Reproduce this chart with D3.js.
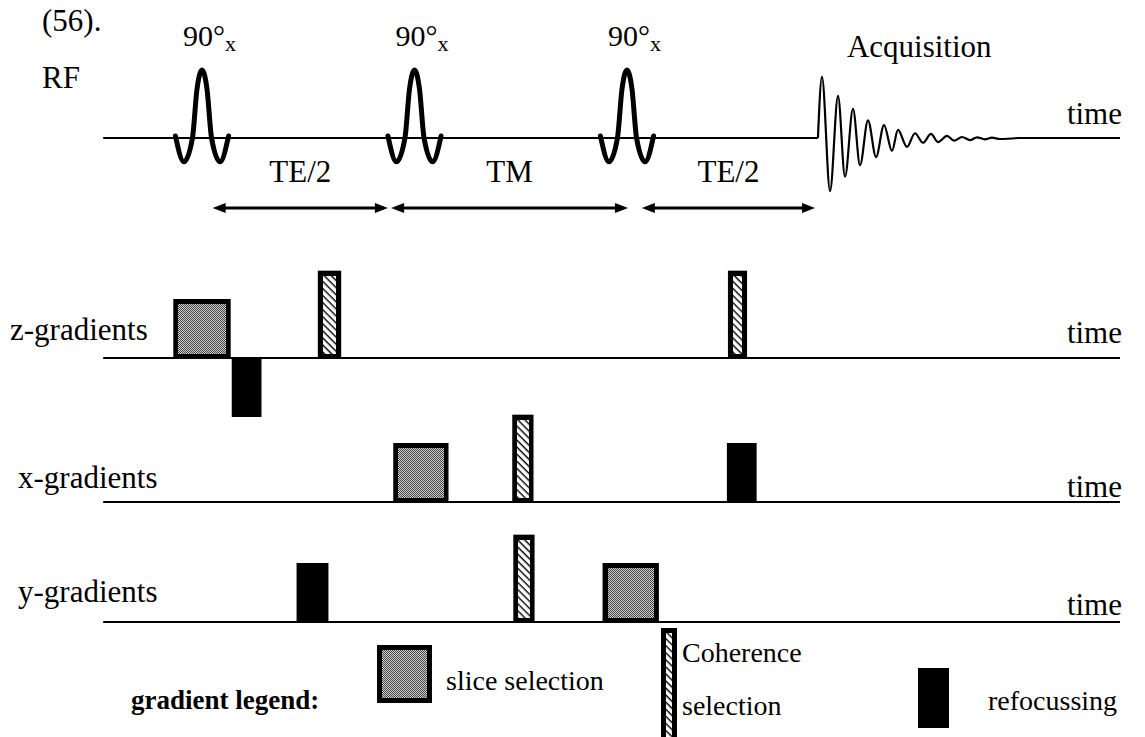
<!DOCTYPE html>
<html>
<head>
<meta charset="utf-8">
<script src="https://cdn.jsdelivr.net/npm/d3@7"></script>
<style>
  body { margin: 0; background: #fff; }
  svg { display: block; }
</style>
</head>
<body>
<div id="chart"></div>
<script>
// rf pulses, in time units
var pulseTimes = [10, 30, 50];
var pulseLabels = ["90°", "90°", "90°"];
var pulsePhases = ["x", "x", "x"];
// one pulse: [offset from centre, amplitude]
var pulseShape = [[-2.5, 0.03], [-1.7, -0.35], [-0.9, 0], [-0.47, 0.72], [0, 1],
                  [0.47, 0.72], [0.9, 0], [1.7, -0.35], [2.5, 0.03]];
// acquisition: start, each peak / trough, end
var fidPoints = [[67.97, 0], [68.35, 0.90], [69.11, -0.78], [69.86, 0.62], [70.52, -0.57],
                 [71.27, 0.43], [71.93, -0.40], [72.68, 0.26], [73.44, -0.28], [74.19, 0.19],
                 [74.94, -0.19], [75.5, 0.12], [76.35, -0.13], [77.1, 0.07], [77.86, -0.07],
                 [78.61, 0.06], [79.27, -0.06], [80.12, 0.03], [80.78, -0.04], [81.53, 0.015],
                 [82.28, -0.03], [82.94, 0.01], [83.69, -0.02], [84.35, 0.005], [85.1, -0.015],
                 [86.8, 0]];
var timeRange = [0.7, 96.4];
// delays between pulses
var delayLabels = ["TE/2", "TM", "TE/2"];
var delayStarts = [11.0, 27.8, 51.4];
var delayEnds = [27.5, 50.1, 67.7];
// gradient lobes
var rowLabels = ["z-gradients", "x-gradients", "y-gradients"];
var zGradients = [
  {type: "slice", start: 7.3, end: 12.7, amp: 1},
  {type: "refocus", start: 12.8, end: 15.6, amp: -1},
  {type: "coherence", start: 20.9, end: 23.1, amp: 1.48},
  {type: "coherence", start: 59.5, end: 61.3, amp: 1.48}
];
var xGradients = [
  {type: "slice", start: 28.0, end: 33.2, amp: 1},
  {type: "coherence", start: 39.2, end: 41.2, amp: 1.48},
  {type: "refocus", start: 59.4, end: 62.2, amp: 1}
];
var yGradients = [
  {type: "refocus", start: 18.9, end: 21.9, amp: 1},
  {type: "coherence", start: 39.3, end: 41.3, amp: 1.48},
  {type: "slice", start: 47.7, end: 53.0, amp: 1}
];
var legendTypes = ["slice", "coherence", "refocus"];
var legendLabels = [["slice selection"], ["Coherence", "selection"], ["refocussing"]];

var width = 1145, height = 737;
var rfBase = 138;
var rowBases = [358, 502, 622];
var border = 5;
var serif = "'Liberation Serif', 'Times New Roman', Times, 'DejaVu Serif', serif";

var svg = d3.select("#chart").append("svg")
  .attr("width", width)
  .attr("height", height)
  .attr("font-family", serif)
  .style("font-family", serif);

var defs = svg.append("defs");
var stip = defs.append("pattern")
  .attr("id", "stipple")
  .attr("width", 2).attr("height", 2)
  .attr("patternUnits", "userSpaceOnUse");
stip.append("rect").attr("width", 2).attr("height", 2).attr("fill", "#cccccc");
stip.append("rect").attr("width", 1).attr("height", 1).attr("fill", "#404040");
stip.append("rect").attr("x", 1).attr("y", 1).attr("width", 1).attr("height", 1).attr("fill", "#505050");

var hatch = defs.append("pattern")
  .attr("id", "hatch")
  .attr("width", 5).attr("height", 5)
  .attr("patternUnits", "userSpaceOnUse")
  .attr("patternTransform", "rotate(45)");
hatch.append("rect").attr("width", 5).attr("height", 5).attr("fill", "#fff");
hatch.append("rect").attr("width", 5).attr("height", 1.4).attr("fill", "#000");

var x = d3.scaleLinear().domain([0, 100]).range([95.75, 1158.25]);
var yRF = d3.scaleLinear().domain([-1, 1]).range([rfBase + 68, rfBase - 68]);
var gAmp = d3.scaleLinear().domain([0, 1]).range([0, 59]);

// ---- RF row ----
svg.append("text").attr("x", 42).attr("y", 31).attr("font-size", 31).text("(56).");
svg.append("text").attr("x", 42).attr("y", 88).attr("font-size", 31).text("RF");

var rf = svg.append("g");
rf.append("line")
  .attr("x1", x(timeRange[0])).attr("x2", x(fidPoints[0][0]))
  .attr("y1", rfBase).attr("y2", rfBase)
  .attr("stroke", "#000").attr("stroke-width", 2);
rf.append("line")
  .attr("x1", x(fidPoints[fidPoints.length - 1][0])).attr("x2", x(timeRange[1]))
  .attr("y1", rfBase).attr("y2", rfBase)
  .attr("stroke", "#000").attr("stroke-width", 2);

var pulseLine = d3.line().curve(d3.curveMonotoneX);
pulseTimes.forEach(function(t, i) {
  rf.append("path")
    .attr("d", pulseLine(pulseShape.map(function(p) { return [x(t + p[0]), yRF(p[1])]; })))
    .attr("fill", "none")
    .attr("stroke", "#000")
    .attr("stroke-width", 5)
    .attr("stroke-linecap", "round")
    .attr("stroke-linejoin", "round");

  var lab = rf.append("text")
    .attr("x", x(t) - 19)
    .attr("y", 46)
    .attr("font-size", 30)
    .text(pulseLabels[i]);
  lab.append("tspan")
    .attr("font-size", 22)
    .attr("dy", 5)
    .text(pulsePhases[i]);
});

rf.append("path")
  .attr("d", pulseLine(fidPoints.map(function(p) { return [x(p[0]), yRF(p[1])]; })))
  .attr("fill", "none")
  .attr("stroke", "#000")
  .attr("stroke-width", 2.2);

rf.append("text")
  .attr("x", x(fidPoints[0][0]) + 29)
  .attr("y", 57)
  .attr("font-size", 31)
  .text("Acquisition");

// ---- delay arrows ----
var arrowY = 208, head = 13;
var arrows = svg.append("g");
delayLabels.forEach(function(label, i) {
  var a = x(delayStarts[i]), b = x(delayEnds[i]);
  arrows.append("line")
    .attr("x1", a + head - 2).attr("x2", b - head + 2)
    .attr("y1", arrowY).attr("y2", arrowY)
    .attr("stroke", "#000").attr("stroke-width", 3);
  arrows.append("path")
    .attr("d", "M" + a + "," + arrowY + "L" + (a + head) + "," + (arrowY - 5) + "L" + (a + head) + "," + (arrowY + 5) + "Z")
    .attr("fill", "#000");
  arrows.append("path")
    .attr("d", "M" + b + "," + arrowY + "L" + (b - head) + "," + (arrowY - 5) + "L" + (b - head) + "," + (arrowY + 5) + "Z")
    .attr("fill", "#000");
  arrows.append("text")
    .attr("x", (a + b) / 2)
    .attr("y", 182)
    .attr("text-anchor", "middle")
    .attr("font-size", 31)
    .text(label);
});

// ---- gradient blocks ----
function drawBlock(g, x0, x1, top, bottom, type) {
  g.append("rect")
    .attr("x", x0).attr("y", top)
    .attr("width", x1 - x0).attr("height", bottom - top)
    .attr("fill", "#000");
  if (type == "refocus") return;
  g.append("rect")
    .attr("x", x0 + border).attr("y", top + border)
    .attr("width", x1 - x0 - 2 * border).attr("height", bottom - top - 2 * border)
    .attr("fill", type == "slice" ? "url(#stipple)" : "url(#hatch)")
    .attr("shape-rendering", "crispEdges");
}

var rowTimeY = [343, 497, 615];
var rowLabelX = [10, 18, 18];
var rowLabelY = [340, 488, 602];
[zGradients, xGradients, yGradients].forEach(function(lobes, r) {
  var base = rowBases[r];
  var g = svg.append("g");
  g.append("line")
    .attr("x1", x(timeRange[0])).attr("x2", x(timeRange[1]))
    .attr("y1", base).attr("y2", base)
    .attr("stroke", "#000").attr("stroke-width", 2);
  lobes.forEach(function(d) {
    var h = gAmp(Math.abs(d.amp));
    var top = d.amp > 0 ? base - h : base - 1;
    var bottom = d.amp > 0 ? base + 1 : base + h;
    drawBlock(g, x(d.start), x(d.end), top, bottom, d.type);
  });
  g.append("text")
    .attr("x", rowLabelX[r]).attr("y", rowLabelY[r])
    .attr("font-size", 31)
    .text(rowLabels[r]);
  g.append("text")
    .attr("x", 1122).attr("y", rowTimeY[r])
    .attr("text-anchor", "end")
    .attr("font-size", 31)
    .text("time");
});

svg.append("text")
  .attr("x", 1122).attr("y", 124)
  .attr("text-anchor", "end")
  .attr("font-size", 31)
  .text("time");

// ---- legend ----
var legend = svg.append("g");
legend.append("text")
  .attr("x", 131).attr("y", 709)
  .attr("font-size", 27)
  .attr("font-weight", "bold")
  .text("gradient legend:");

var swatches = [
  {x0: 377, x1: 432, top: 645, bottom: 703},
  {x0: 661, x1: 677, top: 628, bottom: 750},
  {x0: 918, x1: 949, top: 668, bottom: 728}
];
var labelX = [446, 682, 988];
var labelY = [[690], [662, 715], [710]];
legendTypes.forEach(function(type, i) {
  var s = swatches[i];
  drawBlock(legend, s.x0, s.x1, s.top, s.bottom, type);
  legendLabels[i].forEach(function(line, j) {
    legend.append("text")
      .attr("x", labelX[i]).attr("y", labelY[i][j])
      .attr("font-size", 28)
      .text(line);
  });
});
</script>
</body>
</html>
